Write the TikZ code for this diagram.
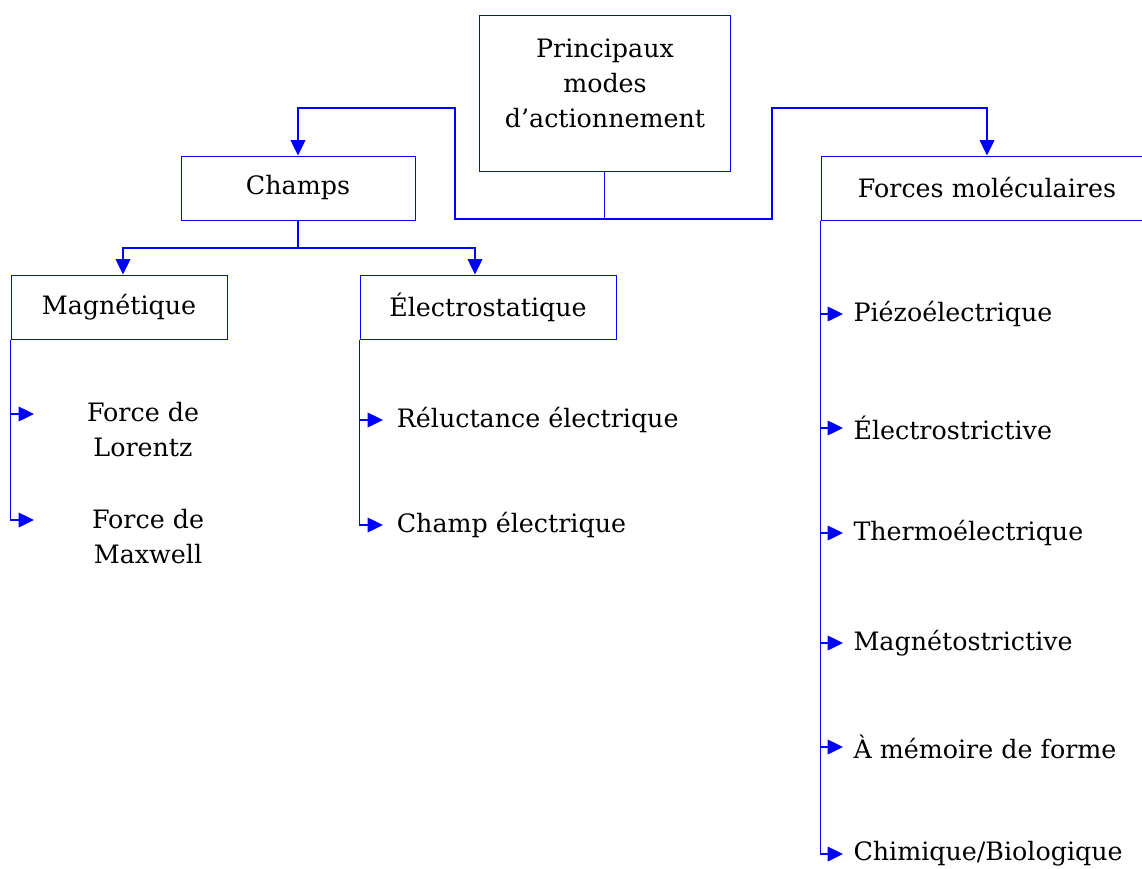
\documentclass[tikz,border=0pt]{standalone}
\usepackage{fontspec}
\setmainfont{DejaVu Serif}
\usetikzlibrary{arrows.meta}

\tikzset{every picture/.style={line width=0.75pt}}
\tikzset{
  box/.style={draw=blue, line width=0.75pt, minimum height=48pt, inner sep=0pt},
  conn/.style={draw=blue, line width=1pt, -{Triangle[length=11.5pt,width=11pt]}},
  item/.style={anchor=west, inner xsep=7.5pt}
}

\begin{document}
\begin{tikzpicture}[x=0.75pt,y=0.75pt,yscale=-1,font=\fontsize{19}{26.25}\selectfont]
\useasboundingbox (0,0) rectangle (1142,868);
\clip (0,0) rectangle (1142,868);

%Shape: Rectangle
\node[box, minimum width=188.25pt, minimum height=117pt] (main) at (604.5,93) {};
\node[align=center] (maintxt) at (605,83) {Principaux\\modes\\d’actionnement};
%Shape: Rectangle
\node[box, minimum width=175.5pt] (champs) at (298,188) {Champs};
%Shape: Rectangle
\node[box, minimum width=162pt] (magn) at (119,307) {Magnétique};
%Shape: Rectangle
\node[box, minimum width=192pt] (elec) at (488,307) {Électrostatique};
%Shape: Rectangle
\node[box, minimum width=249pt] (forces) at (987,188) {Forces moléculaires};

%Straight Lines
\draw[conn] (main.south) |- (455,219) -- (455,108) -| (champs.north);
\draw[conn] (main.south) |- (772,219) -- (772,108) -| (forces.north);
\draw[conn] (champs.south) -- (298,248) -| ([xshift=3pt]magn.north);
\draw[conn] (champs.south) -- (298,248) -| ([xshift=-9.75pt]elec.north);

%Magnetique
\coordinate (lorT) at (34,414);
\coordinate (maxT) at (34,520);
\node[align=center] (lor) at (143,430) {Force de\\Lorentz};
\node[align=center] (maxw) at (148,537) {Force de\\Maxwell};
\draw[conn] (magn.south west) |- (lorT);
\draw[conn] (magn.south west) |- (maxT);

%Electrostatique
\node[item, inner xsep=10pt] (relu) at (383,420) {Réluctance électrique};
\node[item, inner xsep=10pt] (chel) at (383,525) {Champ électrique};
\draw[conn] (elec.south west) |- (relu.west);
\draw[conn] (elec.south west) |- (chel.west);

%Forces moleculaires
\node[item] (piezo) at (843,314) {Piézoélectrique};
\node[item] (estr) at (843,428) {Électrostrictive};
\node[item] (thermo) at (843,533) {Thermoélectrique};
\node[item] (mstr) at (843,643) {Magnétostrictive};
\node[item] (memo) at (843,747) {À mémoire de forme};
\node[item] (chim) at (843,854) {Chimique/Biologique};
\draw[conn] (forces.south west) |- (piezo.west);
\draw[conn] (forces.south west) |- (estr.west);
\draw[conn] (forces.south west) |- (thermo.west);
\draw[conn] (forces.south west) |- (mstr.west);
\draw[conn] (forces.south west) |- (memo.west);
\draw[conn] (forces.south west) |- (chim.west);

\end{tikzpicture}
\end{document}
